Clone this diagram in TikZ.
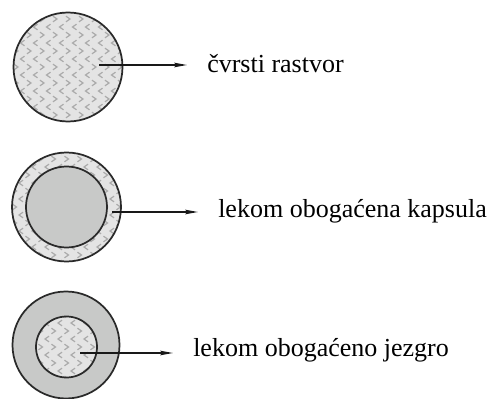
\documentclass[tikz,border=0pt]{standalone}
\usepackage{fontspec}
\setmainfont{Liberation Serif}
\usetikzlibrary{arrows.meta}
\definecolor{patbg}{HTML}{E4E4E4}
\definecolor{patfg}{HTML}{ABABAB}
\definecolor{solidg}{HTML}{C8C9C8}
\definecolor{edge}{HTML}{2A2A2A}
\newcommand\chevronfill[3]{%
  \begin{scope}
    \clip (#1,#2) circle[radius=#3];
    \fill[patbg] (#1,#2) circle[radius=#3];
    \foreach \j in {-8,...,8}{
      \foreach \i in {-5,...,5}{
        \pgfmathtruncatemacro\chpar{mod(abs(\j),2)}
        \pgfmathsetmacro\xx{#1+\i*13+\chpar*6.5}
        \pgfmathsetmacro\yy{#2+\j*8}
        \ifnum\chpar=0
          \draw[patfg,line width=0.9pt] (\xx-2,\yy-2.8) -- (\xx+2,\yy) -- (\xx-2,\yy+2.8);
        \else
          \draw[patfg,line width=0.9pt] (\xx+2,\yy-2.8) -- (\xx-2,\yy) -- (\xx+2,\yy+2.8);
        \fi
      }
    }
  \end{scope}}
\tikzset{
  ring/.style={circle,draw=edge,line width=1.3pt,inner sep=0pt},
  label/.style={anchor=base west,inner sep=0pt,font=\fontsize{19.5}{22}\selectfont},
  arr/.style={line width=1.8pt,draw=black!90,-{Stealth[length=10pt,width=3pt,inset=1pt]},shorten >=14pt}
}
\begin{document}
\begin{tikzpicture}[x=0.75pt,y=-0.75pt]
\useasboundingbox (0,0) rectangle (490,399);
% circle 1: solid solution
\chevronfill{68}{67}{54.5}
\node[ring,minimum size=81.75pt] (c1) at (68,67) {};
% circle 2: drug-enriched capsule
\chevronfill{66.5}{207}{54.5}
\node[ring,minimum size=81.75pt] (c2) at (66.5,207) {};
\node[ring,fill=solidg,minimum size=60.75pt] (c2i) at (66.5,207) {};
% circle 3: drug-enriched core
\node[ring,fill=solidg,minimum size=80.25pt] (c3) at (66,345) {};
\chevronfill{66.5}{347}{30.5}
\node[ring,minimum size=45.75pt] (c3i) at (66.5,347) {};
% labels
\node[label] (t1) at (207,73) {čvrsti rastvor};
\node[label] (t2) at (218,218) {lekom obogaćena kapsula};
\node[label] (t3) at (193,357) {lekom obogaćeno jezgro};
% arrows
\coordinate (s1) at (99,65);
\coordinate (s2) at (112,212);
\coordinate (s3) at (80,353);
\draw[arr] (s1) -- (s1 -| t1.west);
\draw[arr] (s2) -- (s2 -| t2.west);
\draw[arr] (s3) -- (s3 -| t3.west);
\end{tikzpicture}
\end{document}
